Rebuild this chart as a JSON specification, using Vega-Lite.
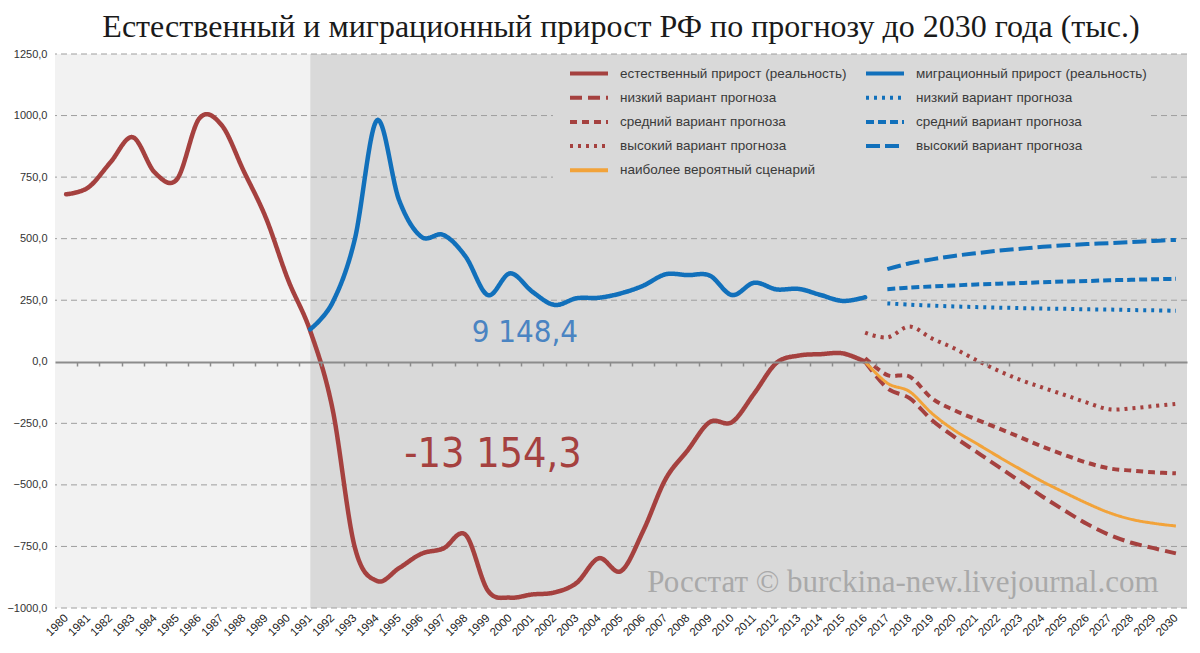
{
  "$schema": "https://vega.github.io/schema/vega-lite/v6.json",
  "width": 1132,
  "height": 554,
  "autosize": {"type": "none"},
  "padding": {"left": 55, "top": 54, "right": 13, "bottom": 45},
  "background": "white",
  "title": {
    "text": "Естественный и миграционный прирост РФ по прогнозу до 2030 года (тыс.)",
    "font": "Liberation Serif",
    "fontSize": 32,
    "fontWeight": "normal",
    "color": "#1a1a1a",
    "anchor": "middle",
    "offset": 4
  },
  "datasets": {
    "bands": [
      {"from": 1979.5, "to": 1991, "shade": "light"},
      {"from": 1991, "to": 2030.5, "shade": "dark"}
    ],
    "grid": [
      {"v": -1000}, {"v": -750}, {"v": -500}, {"v": -250},
      {"v": 250}, {"v": 500}, {"v": 750}, {"v": 1000}, {"v": 1250}
    ],
    "series": [
      {"year": 1980, "v": 680, "s": "nr"},
      {"year": 1981, "v": 708, "s": "nr"},
      {"year": 1982, "v": 810, "s": "nr"},
      {"year": 1983, "v": 912, "s": "nr"},
      {"year": 1984, "v": 768, "s": "nr"},
      {"year": 1985, "v": 742, "s": "nr"},
      {"year": 1986, "v": 988, "s": "nr"},
      {"year": 1987, "v": 962, "s": "nr"},
      {"year": 1988, "v": 775, "s": "nr"},
      {"year": 1989, "v": 585, "s": "nr"},
      {"year": 1990, "v": 333, "s": "nr"},
      {"year": 1991, "v": 125, "s": "nr"},
      {"year": 1992, "v": -190, "s": "nr"},
      {"year": 1993, "v": -751, "s": "nr"},
      {"year": 1994, "v": -890, "s": "nr"},
      {"year": 1995, "v": -838, "s": "nr"},
      {"year": 1996, "v": -780, "s": "nr"},
      {"year": 1997, "v": -758, "s": "nr"},
      {"year": 1998, "v": -703, "s": "nr"},
      {"year": 1999, "v": -929, "s": "nr"},
      {"year": 2000, "v": -958, "s": "nr"},
      {"year": 2001, "v": -945, "s": "nr"},
      {"year": 2002, "v": -937, "s": "nr"},
      {"year": 2003, "v": -898, "s": "nr"},
      {"year": 2004, "v": -798, "s": "nr"},
      {"year": 2005, "v": -850, "s": "nr"},
      {"year": 2006, "v": -687, "s": "nr"},
      {"year": 2007, "v": -478, "s": "nr"},
      {"year": 2008, "v": -360, "s": "nr"},
      {"year": 2009, "v": -245, "s": "nr"},
      {"year": 2010, "v": -245, "s": "nr"},
      {"year": 2011, "v": -129, "s": "nr"},
      {"year": 2012, "v": -5, "s": "nr"},
      {"year": 2013, "v": 25, "s": "nr"},
      {"year": 2014, "v": 31, "s": "nr"},
      {"year": 2015, "v": 34, "s": "nr"},
      {"year": 2016, "v": 0, "s": "nr"},

      {"year": 1991, "v": 132, "s": "mr"},
      {"year": 1992, "v": 240, "s": "mr"},
      {"year": 1993, "v": 495, "s": "mr"},
      {"year": 1994, "v": 980, "s": "mr"},
      {"year": 1995, "v": 657, "s": "mr"},
      {"year": 1996, "v": 508, "s": "mr"},
      {"year": 1997, "v": 515, "s": "mr"},
      {"year": 1998, "v": 427, "s": "mr"},
      {"year": 1999, "v": 271, "s": "mr"},
      {"year": 2000, "v": 359, "s": "mr"},
      {"year": 2001, "v": 285, "s": "mr"},
      {"year": 2002, "v": 231, "s": "mr"},
      {"year": 2003, "v": 258, "s": "mr"},
      {"year": 2004, "v": 260, "s": "mr"},
      {"year": 2005, "v": 278, "s": "mr"},
      {"year": 2006, "v": 309, "s": "mr"},
      {"year": 2007, "v": 355, "s": "mr"},
      {"year": 2008, "v": 352, "s": "mr"},
      {"year": 2009, "v": 350, "s": "mr"},
      {"year": 2010, "v": 271, "s": "mr"},
      {"year": 2011, "v": 321, "s": "mr"},
      {"year": 2012, "v": 294, "s": "mr"},
      {"year": 2013, "v": 296, "s": "mr"},
      {"year": 2014, "v": 271, "s": "mr"},
      {"year": 2015, "v": 247, "s": "mr"},
      {"year": 2016, "v": 262, "s": "mr"},

      {"year": 2016, "v": 0, "s": "nl"},
      {"year": 2017, "v": -108, "s": "nl"},
      {"year": 2018, "v": -148, "s": "nl"},
      {"year": 2019, "v": -236, "s": "nl"},
      {"year": 2020, "v": -304, "s": "nl"},
      {"year": 2021, "v": -365, "s": "nl"},
      {"year": 2022, "v": -426, "s": "nl"},
      {"year": 2023, "v": -487, "s": "nl"},
      {"year": 2024, "v": -548, "s": "nl"},
      {"year": 2025, "v": -605, "s": "nl"},
      {"year": 2026, "v": -659, "s": "nl"},
      {"year": 2027, "v": -703, "s": "nl"},
      {"year": 2028, "v": -735, "s": "nl"},
      {"year": 2029, "v": -757, "s": "nl"},
      {"year": 2030, "v": -778, "s": "nl"},

      {"year": 2016, "v": 15, "s": "nm"},
      {"year": 2017, "v": -54, "s": "nm"},
      {"year": 2018, "v": -60, "s": "nm"},
      {"year": 2019, "v": -148, "s": "nm"},
      {"year": 2020, "v": -196, "s": "nm"},
      {"year": 2021, "v": -234, "s": "nm"},
      {"year": 2022, "v": -270, "s": "nm"},
      {"year": 2023, "v": -307, "s": "nm"},
      {"year": 2024, "v": -345, "s": "nm"},
      {"year": 2025, "v": -379, "s": "nm"},
      {"year": 2026, "v": -410, "s": "nm"},
      {"year": 2027, "v": -433, "s": "nm"},
      {"year": 2028, "v": -442, "s": "nm"},
      {"year": 2029, "v": -449, "s": "nm"},
      {"year": 2030, "v": -453, "s": "nm"},

      {"year": 2016, "v": 118, "s": "nh"},
      {"year": 2017, "v": 99, "s": "nh"},
      {"year": 2018, "v": 143, "s": "nh"},
      {"year": 2019, "v": 95, "s": "nh"},
      {"year": 2020, "v": 55, "s": "nh"},
      {"year": 2021, "v": 7, "s": "nh"},
      {"year": 2022, "v": -36, "s": "nh"},
      {"year": 2023, "v": -74, "s": "nh"},
      {"year": 2024, "v": -105, "s": "nh"},
      {"year": 2025, "v": -135, "s": "nh"},
      {"year": 2026, "v": -166, "s": "nh"},
      {"year": 2027, "v": -193, "s": "nh"},
      {"year": 2028, "v": -189, "s": "nh"},
      {"year": 2029, "v": -180, "s": "nh"},
      {"year": 2030, "v": -171, "s": "nh"},

      {"year": 2017, "v": 237, "s": "ml"},
      {"year": 2018, "v": 232, "s": "ml"},
      {"year": 2019, "v": 228, "s": "ml"},
      {"year": 2020, "v": 225, "s": "ml"},
      {"year": 2021, "v": 222, "s": "ml"},
      {"year": 2022, "v": 220, "s": "ml"},
      {"year": 2023, "v": 218, "s": "ml"},
      {"year": 2024, "v": 216, "s": "ml"},
      {"year": 2025, "v": 215, "s": "ml"},
      {"year": 2026, "v": 213, "s": "ml"},
      {"year": 2027, "v": 212, "s": "ml"},
      {"year": 2028, "v": 210, "s": "ml"},
      {"year": 2029, "v": 209, "s": "ml"},
      {"year": 2030, "v": 207, "s": "ml"},

      {"year": 2017, "v": 295, "s": "mm"},
      {"year": 2018, "v": 301, "s": "mm"},
      {"year": 2019, "v": 306, "s": "mm"},
      {"year": 2020, "v": 310, "s": "mm"},
      {"year": 2021, "v": 314, "s": "mm"},
      {"year": 2022, "v": 317, "s": "mm"},
      {"year": 2023, "v": 320, "s": "mm"},
      {"year": 2024, "v": 323, "s": "mm"},
      {"year": 2025, "v": 326, "s": "mm"},
      {"year": 2026, "v": 328, "s": "mm"},
      {"year": 2027, "v": 331, "s": "mm"},
      {"year": 2028, "v": 333, "s": "mm"},
      {"year": 2029, "v": 335, "s": "mm"},
      {"year": 2030, "v": 337, "s": "mm"},

      {"year": 2017, "v": 376, "s": "mh"},
      {"year": 2018, "v": 400, "s": "mh"},
      {"year": 2019, "v": 416, "s": "mh"},
      {"year": 2020, "v": 430, "s": "mh"},
      {"year": 2021, "v": 441, "s": "mh"},
      {"year": 2022, "v": 451, "s": "mh"},
      {"year": 2023, "v": 459, "s": "mh"},
      {"year": 2024, "v": 467, "s": "mh"},
      {"year": 2025, "v": 473, "s": "mh"},
      {"year": 2026, "v": 478, "s": "mh"},
      {"year": 2027, "v": 482, "s": "mh"},
      {"year": 2028, "v": 486, "s": "mh"},
      {"year": 2029, "v": 491, "s": "mh"},
      {"year": 2030, "v": 495, "s": "mh"},

      {"year": 2016, "v": 0, "s": "pr"},
      {"year": 2017, "v": -87, "s": "pr"},
      {"year": 2018, "v": -121, "s": "pr"},
      {"year": 2019, "v": -209, "s": "pr"},
      {"year": 2020, "v": -277, "s": "pr"},
      {"year": 2021, "v": -331, "s": "pr"},
      {"year": 2022, "v": -385, "s": "pr"},
      {"year": 2023, "v": -437, "s": "pr"},
      {"year": 2024, "v": -487, "s": "pr"},
      {"year": 2025, "v": -532, "s": "pr"},
      {"year": 2026, "v": -575, "s": "pr"},
      {"year": 2027, "v": -613, "s": "pr"},
      {"year": 2028, "v": -640, "s": "pr"},
      {"year": 2029, "v": -656, "s": "pr"},
      {"year": 2030, "v": -667, "s": "pr"}
    ]
  },
  "layer": [
    {
      "data": {"name": "bands"},
      "mark": {"type": "rect"},
      "encoding": {
        "x": {
          "field": "from", "type": "quantitative",
          "scale": {"domain": [1979.5, 2030.5], "nice": false, "zero": false},
          "axis": {
            "orient": "bottom",
            "offset": -246,
            "labels": false,
            "grid": false,
            "title": null,
            "values": [1980.5, 1981.5, 1982.5, 1983.5, 1984.5, 1985.5, 1986.5, 1987.5, 1988.5, 1989.5, 1990.5, 1991.5, 1992.5, 1993.5, 1994.5, 1995.5, 1996.5, 1997.5, 1998.5, 1999.5, 2000.5, 2001.5, 2002.5, 2003.5, 2004.5, 2005.5, 2006.5, 2007.5, 2008.5, 2009.5, 2010.5, 2011.5, 2012.5, 2013.5, 2014.5, 2015.5, 2016.5, 2017.5, 2018.5, 2019.5, 2020.5, 2021.5, 2022.5, 2023.5, 2024.5, 2025.5, 2026.5, 2027.5, 2028.5, 2029.5],
            "tickSize": 4,
            "tickColor": "#8c8c8c",
            "tickWidth": 1.5,
            "domainColor": "#8c8c8c",
            "domainWidth": 2,
            "zindex": 1
          }
        },
        "x2": {"field": "to"},
        "y": {
          "datum": -1000, "type": "quantitative",
          "scale": {"domain": [-1000, 1250], "nice": false},
          "axis": {
            "values": [-1000, -750, -500, -250, 0, 250, 500, 750, 1000, 1250],
            "labelExpr": "replace(format(datum.value, '.1f'), '.', ',')",
            "domain": false,
            "ticks": false,
            "grid": false,
            "title": null,
            "labelPadding": 8,
            "labelFontSize": 11,
            "labelColor": "#333333",
            "labelFont": "Liberation Sans"
          }
        },
        "y2": {"datum": 1250},
        "fill": {
          "field": "shade", "type": "nominal",
          "scale": {"domain": ["light", "dark"], "range": ["#f2f2f2", "#d9d9d9"]},
          "legend": null
        }
      }
    },
    {
      "data": {"name": "grid"},
      "mark": {"type": "rule", "color": "#9e9e9e", "strokeWidth": 1, "strokeDash": [6, 4]},
      "encoding": {
        "y": {"field": "v", "type": "quantitative", "scale": {"domain": [-1000, 1250], "nice": false}}
      }
    },
    {
      "data": {"name": "series"},
      "transform": [{"filter": "datum.s == 'nr' || datum.s == 'mr'"}],
      "mark": {"type": "line", "strokeWidth": 4.5, "interpolate": "cardinal", "strokeCap": "round"},
      "encoding": {
        "x": {
          "field": "year", "type": "quantitative",
          "scale": {"domain": [1979.5, 2030.5], "nice": false, "zero": false},
          "axis": {
            "orient": "bottom",
            "values": [1980, 1981, 1982, 1983, 1984, 1985, 1986, 1987, 1988, 1989, 1990, 1991, 1992, 1993, 1994, 1995, 1996, 1997, 1998, 1999, 2000, 2001, 2002, 2003, 2004, 2005, 2006, 2007, 2008, 2009, 2010, 2011, 2012, 2013, 2014, 2015, 2016, 2017, 2018, 2019, 2020, 2021, 2022, 2023, 2024, 2025, 2026, 2027, 2028, 2029, 2030],
            "format": "d",
            "labelAngle": -45,
            "labelAlign": "right",
            "labelBaseline": "middle",
            "labelPadding": 8,
            "labelFont": "Liberation Sans",
            "labelFontSize": 11.5,
            "labelColor": "#222222",
            "labelOverlap": false,
            "domain": false,
            "ticks": false,
            "grid": false,
            "title": null
          }
        },
        "y": {"field": "v", "type": "quantitative", "scale": {"domain": [-1000, 1250], "nice": false}},
        "detail": {"field": "s"},
        "color": {
          "field": "s", "type": "nominal",
          "scale": {
            "domain": ["nr", "mr", "nl", "ml", "nm", "mm", "nh", "mh", "pr"],
            "range": ["#a5413f", "#1170bb", "#a5413f", "#1170bb", "#a5413f", "#1170bb", "#a5413f", "#1170bb", "#f2a33a"]
          },
          "legend": {
            "orient": "none",
            "legendX": 498,
            "legendY": 11,
            "columns": 2,
            "direction": "horizontal",
            "title": null,
            "fillColor": "#d9d9d9",
            "padding": 2,
            "clipHeight": 13,
            "symbolOffset": 13,
            "symbolType": "stroke",
            "symbolSize": 1444,
            "symbolStrokeWidth": 4,
            "labelFont": "Liberation Sans",
            "labelFontSize": 13.5,
            "labelColor": "#3a3a3a",
            "labelOffset": 10,
            "labelLimit": 320,
            "rowPadding": 10.2,
            "columnPadding": 4,
            "labelExpr": "datum.value == 'nr' ? 'естественный прирост (реальность)' : datum.value == 'mr' ? 'миграционный прирост (реальность)' : datum.value == 'pr' ? 'наиболее вероятный сценарий' : (datum.value == 'nl' || datum.value == 'ml') ? 'низкий вариант прогноза' : (datum.value == 'nm' || datum.value == 'mm') ? 'средний вариант прогноза' : 'высокий вариант прогноза'"
          }
        },
        "strokeDash": {
          "field": "s", "type": "nominal",
          "scale": {
            "domain": ["nr", "mr", "nl", "ml", "nm", "mm", "nh", "mh", "pr"],
            "range": [[1, 0], [1, 0], [12, 6], [3, 5], [7, 5], [8, 4], [3, 5], [14, 5], [1, 0]]
          }
        }
      }
    },
    {
      "data": {"name": "series"},
      "transform": [{"filter": "datum.s != 'nr' && datum.s != 'mr' && datum.s != 'pr'"}],
      "mark": {"type": "line", "strokeWidth": 4, "interpolate": "cardinal"},
      "encoding": {
        "x": {"field": "year", "type": "quantitative", "scale": {"domain": [1979.5, 2030.5], "nice": false, "zero": false}, "axis": null},
        "y": {"field": "v", "type": "quantitative", "scale": {"domain": [-1000, 1250], "nice": false}},
        "color": {
          "field": "s", "type": "nominal",
          "scale": {
            "domain": ["nr", "mr", "nl", "ml", "nm", "mm", "nh", "mh", "pr"],
            "range": ["#a5413f", "#1170bb", "#a5413f", "#1170bb", "#a5413f", "#1170bb", "#a5413f", "#1170bb", "#f2a33a"]
          }
        },
        "strokeDash": {
          "field": "s", "type": "nominal",
          "scale": {
            "domain": ["nr", "mr", "nl", "ml", "nm", "mm", "nh", "mh", "pr"],
            "range": [[1, 0], [1, 0], [12, 6], [3, 5], [7, 5], [8, 4], [3, 5], [14, 5], [1, 0]]
          }
        }
      }
    },
    {
      "data": {"name": "series"},
      "transform": [{"filter": "datum.s == 'pr'"}],
      "mark": {"type": "line", "strokeWidth": 3, "interpolate": "cardinal"},
      "encoding": {
        "x": {"field": "year", "type": "quantitative", "scale": {"domain": [1979.5, 2030.5], "nice": false, "zero": false}, "axis": null},
        "y": {"field": "v", "type": "quantitative", "scale": {"domain": [-1000, 1250], "nice": false}},
        "color": {
          "field": "s", "type": "nominal",
          "scale": {
            "domain": ["nr", "mr", "nl", "ml", "nm", "mm", "nh", "mh", "pr"],
            "range": ["#a5413f", "#1170bb", "#a5413f", "#1170bb", "#a5413f", "#1170bb", "#a5413f", "#1170bb", "#f2a33a"]
          }
        },
        "strokeDash": {
          "field": "s", "type": "nominal",
          "scale": {
            "domain": ["nr", "mr", "nl", "ml", "nm", "mm", "nh", "mh", "pr"],
            "range": [[1, 0], [1, 0], [12, 6], [3, 5], [7, 5], [8, 4], [3, 5], [14, 5], [1, 0]]
          }
        }
      }
    },
    {
      "data": {"values": [{"year": 2000.67, "v": 117, "label": "9 148,4"}]},
      "mark": {"type": "text", "font": "Liberation Sans Narrow, DejaVu Sans Condensed, sans-serif", "fontSize": 31, "color": "#4a84c2", "align": "center", "baseline": "middle"},
      "encoding": {
        "x": {"field": "year", "type": "quantitative", "scale": {"domain": [1979.5, 2030.5], "nice": false, "zero": false}, "axis": null},
        "y": {"field": "v", "type": "quantitative", "scale": {"domain": [-1000, 1250], "nice": false}},
        "text": {"field": "label"}
      }
    },
    {
      "data": {"values": [{"year": 1999.23, "v": -378, "label": "-13 154,3"}]},
      "mark": {"type": "text", "font": "Liberation Sans Narrow, DejaVu Sans Condensed, sans-serif", "fontSize": 41, "color": "#a5413f", "align": "center", "baseline": "middle"},
      "encoding": {
        "x": {"field": "year", "type": "quantitative", "scale": {"domain": [1979.5, 2030.5], "nice": false, "zero": false}, "axis": null},
        "y": {"field": "v", "type": "quantitative", "scale": {"domain": [-1000, 1250], "nice": false}},
        "text": {"field": "label"}
      }
    },
    {
      "data": {"values": [{"year": 2017.7, "v": -899, "label": "Росстат © burckina-new.livejournal.com"}]},
      "mark": {"type": "text", "font": "Liberation Serif", "fontSize": 31, "color": "#a9a9a9", "align": "center", "baseline": "middle"},
      "encoding": {
        "x": {"field": "year", "type": "quantitative", "scale": {"domain": [1979.5, 2030.5], "nice": false, "zero": false}, "axis": null},
        "y": {"field": "v", "type": "quantitative", "scale": {"domain": [-1000, 1250], "nice": false}},
        "text": {"field": "label"}
      }
    }
  ],
  "resolve": {"axis": {"x": "independent"}},
  "config": {
    "view": {"stroke": null},
    "axis": {"grid": false}
  }
}
